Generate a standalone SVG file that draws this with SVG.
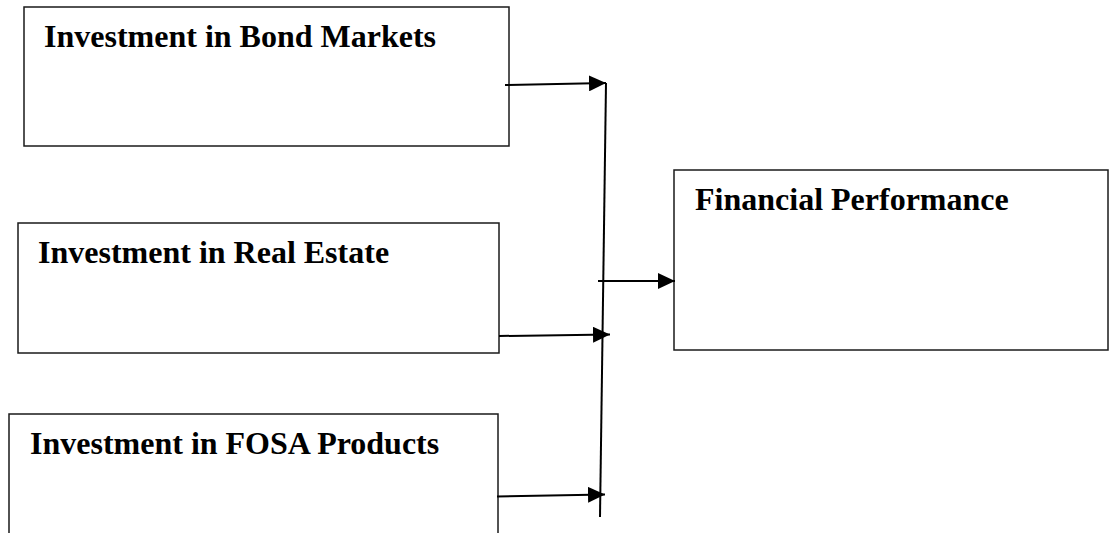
<svg xmlns="http://www.w3.org/2000/svg" width="1110" height="533" viewBox="0 0 1110 533">
  <style>
    .box { fill: #ffffff; stroke: #1a1a1a; stroke-width: 1.5; }
    .lbl { font-family: "Liberation Serif", "Times New Roman", serif; font-weight: bold; font-size: 32px; fill: #000000; }
    .conn { stroke: #000000; stroke-width: 2; fill: none; }
  </style>
  <defs>
    <marker id="arrow" markerUnits="userSpaceOnUse" markerWidth="17" markerHeight="16" refX="17" refY="8" orient="auto">
      <path d="M0,0 L17,8 L0,16 z" fill="#000000"/>
    </marker>
  </defs>
  <rect width="1110" height="533" fill="#ffffff"/>
  <g id="node-bond">
    <rect class="box" x="24" y="7" width="485" height="139"/>
    <text class="lbl" x="44" y="47">Investment in Bond Markets</text>
  </g>
  <g id="node-realestate">
    <rect class="box" x="18" y="223" width="481" height="130"/>
    <text class="lbl" x="38" y="263">Investment in Real Estate</text>
  </g>
  <g id="node-fosa">
    <rect class="box" x="9" y="414" width="489" height="140"/>
    <text class="lbl" x="30" y="454">Investment in FOSA Products</text>
  </g>
  <g id="node-financial">
    <rect class="box" x="674" y="170" width="434" height="180"/>
    <text class="lbl" x="695" y="210">Financial Performance</text>
  </g>
  <g id="connectors">
    <line class="conn" x1="606" y1="83" x2="600" y2="517"/>
    <line class="conn" x1="505" y1="85" x2="606" y2="83" marker-end="url(#arrow)"/>
    <line class="conn" x1="499" y1="336" x2="610" y2="334.5" marker-end="url(#arrow)"/>
    <line class="conn" x1="497" y1="496.5" x2="605" y2="494.5" marker-end="url(#arrow)"/>
    <line class="conn" x1="598" y1="281" x2="675" y2="281" marker-end="url(#arrow)"/>
  </g>
</svg>
